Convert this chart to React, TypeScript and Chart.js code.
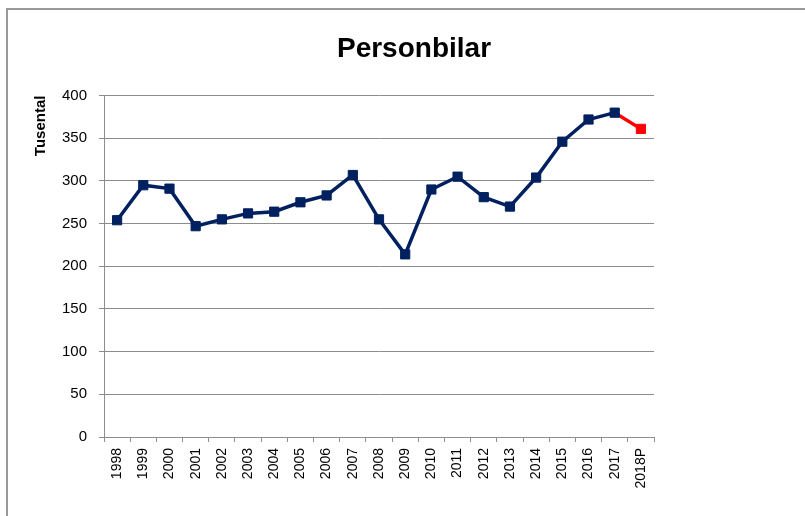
import React, { useEffect, useRef } from "react";
import { Chart, registerables } from "chart.js";

Chart.register(...registerables);

const categories = [
  "1998", "1999", "2000", "2001", "2002", "2003", "2004", "2005", "2006", "2007",
  "2008", "2009", "2010", "2011", "2012", "2013", "2014", "2015", "2016", "2017", "2018P",
];
const values = [
  254, 295, 291, 247, 255, 262, 264, 275, 283, 307,
  255, 214, 290, 305, 281, 270, 304, 346, 372, 380, 361,
];
const yMin = 0;
const yMax = 400;
const yStep = 50;
const chartTitle = "Personbilar";
const yAxisTitle = "Tusental";

const lineColor = "#002060";
const forecastColor = "#FF0000";
const gridColor = "#8c8c8c";
const family = "'Liberation Sans', Arial, sans-serif";

export default function App() {
  const ref = useRef<HTMLCanvasElement>(null);

  useEffect(() => {
    const last = values.length - 1;
    const pointColors = values.map((_, i) => (i === last ? forecastColor : lineColor));
    const chart = new Chart(ref.current!, {
      type: "line",
      data: {
        labels: categories,
        datasets: [
          {
            data: values,
            yAxisID: "y",
            borderColor: lineColor,
            borderWidth: 3.5,
            tension: 0,
            fill: false,
            pointStyle: "rect",
            pointRadius: 6.5,
            pointBorderWidth: 1,
            pointBackgroundColor: pointColors,
            pointBorderColor: pointColors,
            segment: {
              borderColor: (c: any) => (c.p1DataIndex === last ? forecastColor : undefined),
            },
          },
        ],
      },
      options: {
        responsive: false,
        animation: false,
        devicePixelRatio: 1,
        layout: { padding: { left: 23, right: 0, top: 0, bottom: 0 } },
        plugins: {
          legend: { display: false },
          tooltip: { enabled: false },
          title: {
            display: true,
            text: chartTitle,
            color: "#000",
            font: { family, size: 28, weight: "bold" },
            padding: { top: 32, bottom: 30 },
          },
        },
        scales: {
          x: {
            type: "category",
            offset: true,
            grid: {
              display: true,
              offset: true,
              drawOnChartArea: false,
              drawTicks: true,
              tickLength: 5,
              color: gridColor,
              lineWidth: 1,
            },
            border: { display: true, color: gridColor, width: 1 },
            ticks: {
              autoSkip: false,
              minRotation: 90,
              maxRotation: 90,
              padding: 6,
              color: "#000",
              font: { family, size: 14 },
            },
            afterFit: (s: any) => {
              s.height = 79;
            },
          },
          y: {
            type: "linear",
            position: "left",
            min: yMin,
            max: yMax,
            ticks: {
              stepSize: yStep,
              padding: 12,
              color: "#000",
              font: { family, size: 15 },
            },
            grid: { color: gridColor, lineWidth: 1, tickLength: 5 },
            border: { display: true, color: gridColor, width: 1 },
            title: {
              display: true,
              text: yAxisTitle,
              align: "end",
              color: "#000",
              font: { family, size: 15, weight: "bold" },
              padding: { top: 9, bottom: 0 },
            },
            afterFit: (s: any) => {
              s.width = 81;
            },
          },
          yr: {
            type: "linear",
            position: "right",
            display: true,
            grid: { display: false },
            border: { display: false },
            ticks: { display: false },
            afterFit: (s: any) => {
              s.width = 151;
            },
          },
        },
      },
    } as any);
    return () => chart.destroy();
  }, []);

  return (
    <div
      style={{
        position: "absolute",
        left: 0,
        top: 0,
        width: 805,
        height: 516,
        overflow: "hidden",
        background: "#fff",
      }}
    >
      <div
        style={{
          position: "absolute",
          left: 6,
          top: 8,
          width: 1000,
          height: 1000,
          border: "2px solid #9a9a9a",
        }}
      />
      <canvas
        ref={ref}
        width={805}
        height={516}
        style={{ position: "absolute", left: 0, top: 0 }}
      />
    </div>
  );
}
